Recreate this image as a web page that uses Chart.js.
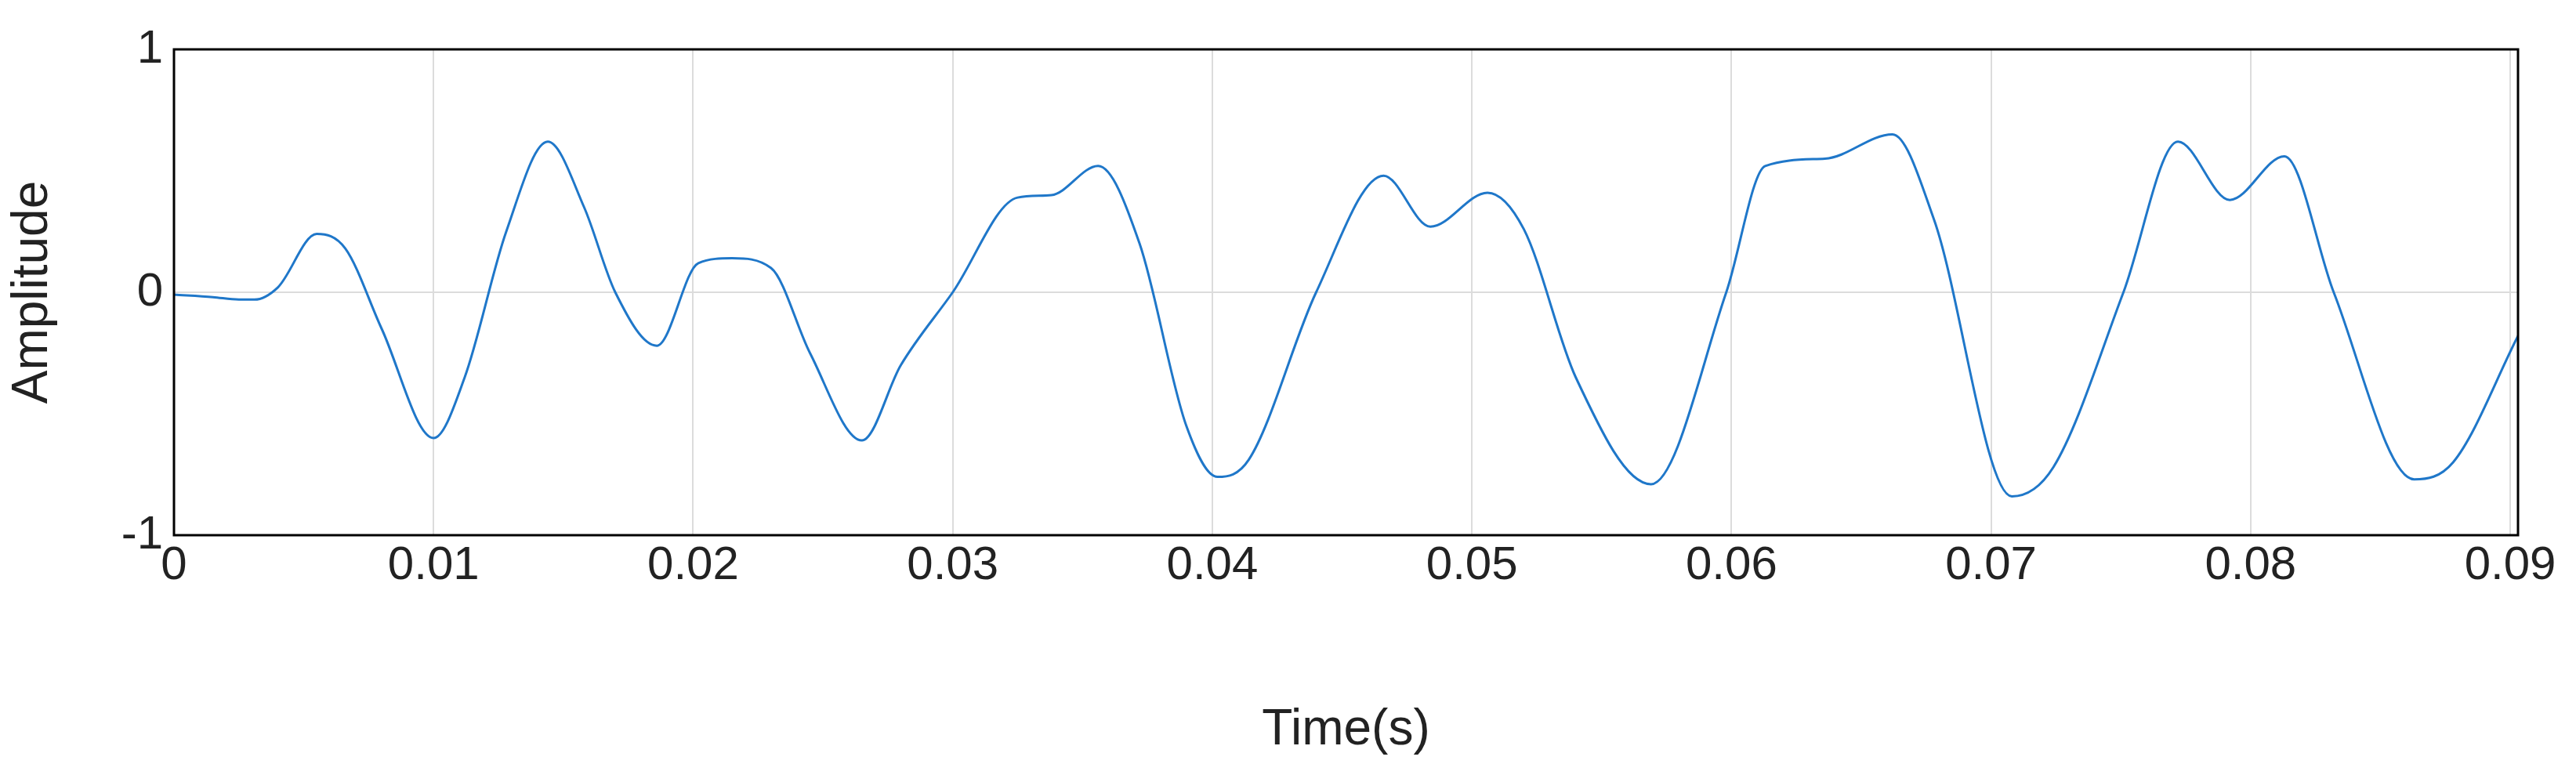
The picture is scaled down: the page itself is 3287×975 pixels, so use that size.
<!DOCTYPE html>
<html>
<head>
<meta charset="utf-8">
<script src="https://cdn.jsdelivr.net/npm/chart.js@4.4.1/dist/chart.umd.min.js"></script>
<style>
  body { margin: 0; background: #fff; }
</style>
</head>
<body>
<canvas id="myChart" width="3287" height="975" style="width:3287px;height:975px"></canvas>
<script>
// values
const timeValues = [0, 0.0015, 0.0025, 0.0031, 0.0040, 0.0055, 0.0066, 0.0080, 0.0100, 0.0112, 0.0128, 0.0144, 0.0158, 0.0170, 0.0186, 0.0202, 0.0215, 0.0230, 0.0245, 0.0265, 0.0280, 0.0300, 0.0325, 0.0338, 0.0356, 0.0372, 0.0390, 0.0402, 0.0414, 0.0440, 0.0466, 0.0484, 0.0506, 0.0520, 0.0540, 0.0569, 0.0598, 0.0613, 0.0636, 0.0662, 0.0678, 0.0708, 0.0724, 0.0751, 0.0772, 0.0792, 0.0813, 0.0832, 0.0863, 0.0878, 0.0903];
const amplitudeValues = [-0.01, -0.02, -0.03, -0.03, 0.02, 0.24, 0.18, -0.15, -0.60, -0.35, 0.25, 0.62, 0.35, 0.0, -0.22, 0.12, 0.14, 0.10, -0.25, -0.61, -0.30, 0.0, 0.39, 0.40, 0.52, 0.20, -0.55, -0.76, -0.69, 0.0, 0.48, 0.27, 0.41, 0.26, -0.35, -0.79, 0.0, 0.52, 0.55, 0.65, 0.30, -0.84, -0.72, 0.0, 0.62, 0.38, 0.56, 0.0, -0.77, -0.70, -0.18];
const xTickValues = [0, 0.01, 0.02, 0.03, 0.04, 0.05, 0.06, 0.07, 0.08, 0.09];
const yTickValues = [-1, 0, 1];

const points = timeValues.map((t, i) => ({ x: t, y: amplitudeValues[i] }));

const boxPlugin = {
  id: "box",
  afterDraw(chart) {
    const { ctx, chartArea: a } = chart;
    ctx.save();
    ctx.strokeStyle = "#000";
    ctx.lineWidth = 3;
    ctx.strokeRect(a.left, a.top, a.right - a.left, a.bottom - a.top);
    ctx.restore();
  }
};

const ctx = document.getElementById("myChart").getContext("2d");
new Chart(ctx, {
  type: "line",
  data: {
    datasets: [{
      data: points,
      borderColor: "#1f77c9",
      borderWidth: 3,
      pointRadius: 0,
      cubicInterpolationMode: "monotone",
      fill: false,
    }],
  },
  options: {
    responsive: false,
    animation: false,
    devicePixelRatio: 1,
    layout: { padding: { top: 63, right: 74 } },
    plugins: { legend: { display: false }, tooltip: { enabled: false } },
    scales: {
      x: {
        type: "linear",
        min: 0,
        max: 0.0903,
        afterBuildTicks: (axis) => { axis.ticks = xTickValues.map(v => ({ value: v })); },
        afterFit: (axis) => { axis.height = 292; },
        ticks: {
          color: "#222",
          font: { family: "Liberation Sans", size: 60 },
          maxRotation: 0,
          autoSkip: false,
          callback: (v) => v === 0 ? "0" : v.toFixed(2),
        },
        grid: { color: "#dcdcdc", lineWidth: 2, drawTicks: false },
        border: { display: false },
        title: {
          display: true, text: "Time(s)", color: "#222",
          font: { family: "Liberation Sans", size: 64 },
          padding: { top: 20 },
        },
      },
      y: {
        min: -1,
        max: 1,
        afterBuildTicks: (axis) => { axis.ticks = yTickValues.map(v => ({ value: v })); },
        afterFit: (axis) => { axis.width = 222; },
        ticks: {
          color: "#222",
          font: { family: "Liberation Sans", size: 60 },
          padding: 14,
        },
        grid: { color: "#dcdcdc", lineWidth: 2, drawTicks: false },
        border: { display: false },
        title: {
          display: true, text: "Amplitude", color: "#222",
          font: { family: "Liberation Sans", size: 64 },
          padding: { bottom: 0 },
        },
      },
    },
  },
  plugins: [boxPlugin],
});
</script>
</body>
</html>
